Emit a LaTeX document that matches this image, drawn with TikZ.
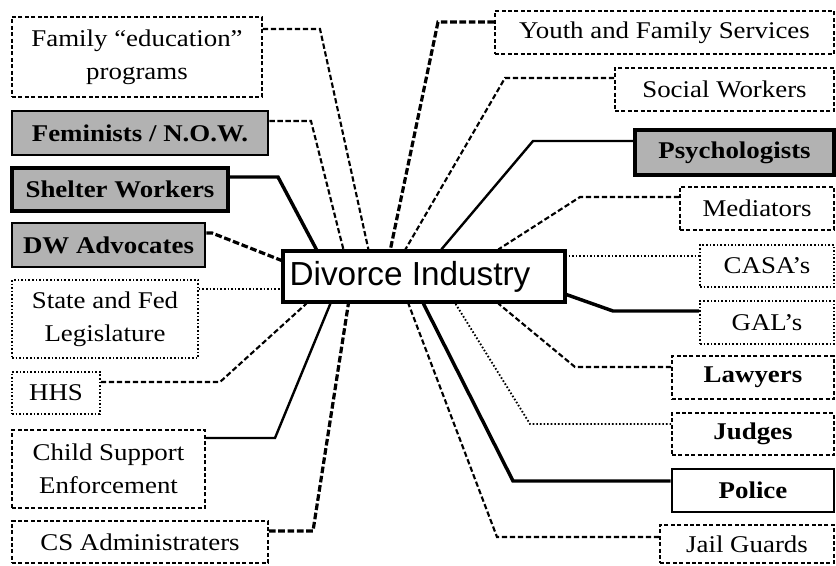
\documentclass[tikz,border=0pt]{standalone}
\usepackage{fontspec}
\setmainfont[FakeStretch=1.12]{Liberation Serif}
\newfontfamily\arialf{Liberation Sans}
\usetikzlibrary{calc}
\begin{document}
\begin{tikzpicture}[x=0.75pt,y=-0.75pt,
  rect/.style n args={4}{minimum width={(#3-#1)*0.75pt}, minimum height={(#4-#2)*0.75pt}, at={({(#1+#3)/2},{(#2+#4)/2})}},
  box/.style={inner sep=0pt, align=center, font=\fontsize{18}{25}\selectfont, line width=1.3pt},
  dbox/.style={box, draw, dash pattern=on 3pt off 1.8pt},
  tbox/.style={box, draw, dash pattern=on 1.2pt off 1.5pt},
  gbox/.style={box, draw, fill=black!30, line width=2.2pt, font=\fontsize{18}{25}\selectfont\bfseries},
  bdbox/.style={dbox, font=\fontsize{18}{25}\selectfont\bfseries},
  bsbox/.style={box, draw, line width=2pt, font=\fontsize{18}{25}\selectfont\bfseries},
  cbox/.style={inner sep=0pt, draw, fill=white, line width=2.4pt, font=\arialf\fontsize{25}{28}\selectfont},
  conn/.style={line width=1.6pt, dash pattern=on 4pt off 2pt},
  connthick/.style={line width=2.4pt, dash pattern=on 5pt off 2pt},
  connsolid/.style={line width=1.8pt},
  connsolidthick/.style={line width=2.6pt},
  conndot/.style={line width=1.4pt, dash pattern=on 1.2pt off 1.5pt}]
\fill[white] (0,0) rectangle (836,565);
\useasboundingbox (0,0) rectangle (836,565);

% centre
\node[cbox, rect={283}{251}{565}{302}] (C) {Divorce Industry\hspace*{21pt}};

% left boxes
\node[dbox, rect={12}{17}{262}{97}] (L1) {Family “education”\\programs};
\node[gbox, rect={12}{111}{268}{155}] (L2) {Feminists / N.O.W.};
\node[gbox, line width=2.8pt, rect={12}{168}{228}{211}] (L3) {Shelter Workers};
\node[gbox, rect={12}{223}{205}{267}] (L4) {DW Advocates};
\node[tbox, rect={12}{280}{198}{358}] (L5) {State and Fed\\Legislature};
\node[tbox, rect={12}{372}{100}{414}] (L6) {HHS};
\node[dbox, rect={12}{430}{205}{508}] (L7) {Child Support\\Enforcement};
\node[dbox, rect={12}{521}{268}{563}] (L8) {CS Administraters};

% right boxes
\node[dbox, rect={495}{11}{834}{54}] (R1) {Youth and Family Services};
\node[dbox, rect={615}{68}{834}{111}] (R2) {Social Workers};
\node[gbox, line width=2.8pt, rect={635}{130}{834}{175}] (R3) {Psychologists};
\node[dbox, rect={680}{187}{834}{230}] (R4) {Mediators};
\node[tbox, rect={700}{245}{834}{287}] (R5) {CASA’s};
\node[tbox, rect={700}{301}{834}{344}] (R6) {GAL’s};
\node[bdbox, rect={672}{356}{834}{399}] (R7) {Lawyers};
\node[bdbox, rect={672}{413}{834}{455}] (R8) {Judges};
\node[bsbox, rect={672}{469}{834}{512}] (R9) {Police};
\node[dbox, rect={660}{525}{834}{563}] (R10) {Jail Guards};

% bend points and ends
\coordinate (b1) at (320,29);
\coordinate (b2) at (311,121);
\coordinate (b3) at (278,177);
\coordinate (b4) at (212,233);
\coordinate (e5) at (283,289);
\coordinate (b6) at (220,382);
\coordinate (b7) at (275,438);
\coordinate (b8) at (313,531);
\coordinate (r1) at (438,22);
\coordinate (r2) at (505,78);
\coordinate (r3) at (533,141);
\coordinate (r4) at (580,197);
\coordinate (e5r) at (565,256);
\coordinate (r6) at (613,311);
\coordinate (r7) at (575,367);
\coordinate (r8) at (530,424);
\coordinate (r9) at (513,481);
\coordinate (r10) at (497,537);

% left connectors
\draw[conn] (L1.east |- b1) -- (b1) -- ($(C.north west)+(87,0)$);
\draw[conn] (L2.east |- b2) -- (b2) -- ($(C.north west)+(62,0)$);
\draw[connsolidthick] (L3.east |- b3) -- (b3) -- ($(C.north west)+(35,0)$);
\draw[connthick] (L4.east |- b4) -- (b4) -- ($(C.north west)+(0,11)$);
\draw[conndot] (L5.east |- e5) -- (e5);
\draw[conn] (L6.east |- b6) -- (b6) -- ($(C.south west)+(25,0)$);
\draw[connsolid] (L7.east |- b7) -- (b7) -- ($(C.south west)+(49,0)$);
\draw[connthick] (L8.east |- b8) -- (b8) -- ($(C.south west)+(67,0)$);

% right connectors
\draw[connthick] (R1.west |- r1) -- (r1) -- ($(C.north west)+(109,0)$);
\draw[conn] (R2.west |- r2) -- (r2) -- ($(C.north west)+(124,0)$);
\draw[connsolid] (R3.west |- r3) -- (r3) -- ($(C.north west)+(160,0)$);
\draw[conn] (R4.west |- r4) -- (r4) -- ($(C.north west)+(217,0)$);
\draw[conndot] (e5r) -- (R5.west |- e5r);
\draw[connsolidthick] (R6.west |- r6) -- (r6) -- ($(C.south east)+(0,-9)$);
\draw[conn] (R7.west |- r7) -- (r7) -- ($(C.south west)+(217,0)$);
\draw[conndot] (R8.west |- r8) -- (r8) -- ($(C.south west)+(174,0)$);
\draw[connsolidthick] (R9.west |- r9) -- (r9) -- ($(C.south west)+(142,0)$);
\draw[conn] (R10.west |- r10) -- (r10) -- ($(C.south west)+(127,0)$);
\end{tikzpicture}
\end{document}
